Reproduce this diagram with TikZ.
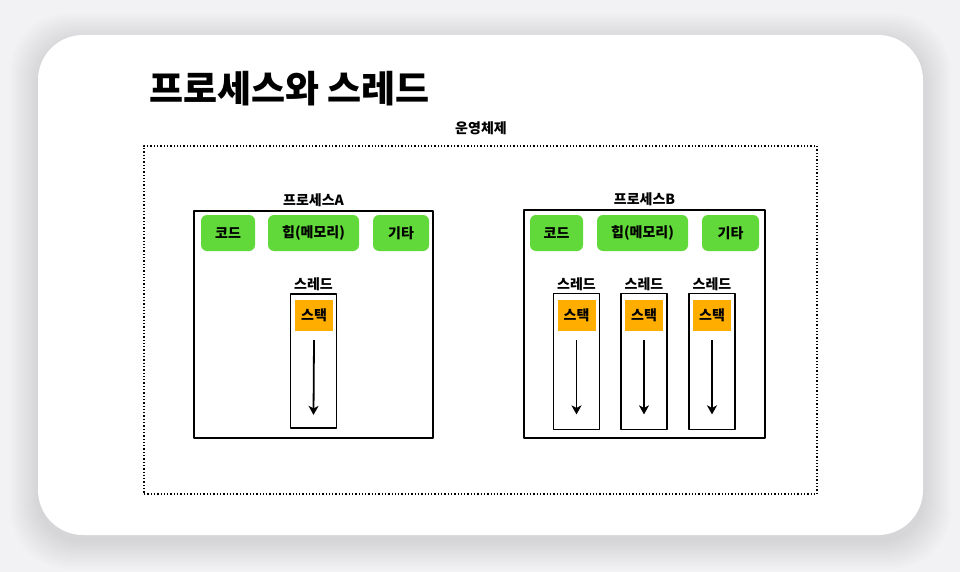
\documentclass[tikz,border=0pt]{standalone}
\usepackage{fontspec}
\setmainfont{Noto Sans CJK KR}
\usetikzlibrary{arrows.meta, positioning}
\definecolor{pagegray}{HTML}{F2F2F4}
\definecolor{segreen}{HTML}{62D93A}
\definecolor{stackorange}{HTML}{FFAE00}

\tikzset{
  seg/.style={fill=segreen, rounded corners=6pt, minimum height=36pt, inner sep=0pt,
    font=\fontsize{14}{16}\selectfont\bfseries},
  procbox/.style={draw=black, line width=1.8pt, inner sep=0pt},
  threadbox/.style={draw=black, line width=1.8pt, minimum width=46pt, minimum height=136pt, inner sep=0pt},
  stackbox/.style={fill=stackorange, minimum width=38pt, minimum height=31pt, inner sep=0pt,
    font=\fontsize{14}{16}\selectfont\bfseries},
  lbl/.style={font=\fontsize{14}{16}\selectfont\bfseries, inner sep=2pt},
  growarrow/.style={-{Stealth[length=9pt, width=10pt, inset=2.5pt]}, line width=1.8pt}
}

\begin{document}
\begin{tikzpicture}[x=1pt, y=-1pt, line join=round]
  \useasboundingbox (0,0) rectangle (960,572);
  % Hintergrund und Karte
  \fill[pagegray] (0,0) rectangle (960,572);
  \foreach \s in {1,...,14}
    \fill[black, opacity=0.008, rounded corners=45pt+\s pt] (38-2*\s,35-2*\s+6) rectangle (923+2*\s,535+2*\s+6);
  \fill[white, rounded corners=45pt] (38,35) rectangle (923,535);

  % Titel
  \node[anchor=west, font=\fontsize{37}{42}\selectfont\bfseries, inner sep=0pt] (title) at (149,89) {프로세스와 스레드};

  % Betriebssystem
  \node[lbl] (oslbl) at (481,128) {운영체제};
  \node[draw=black, dotted, line width=1.3pt, minimum width=673pt, minimum height=348pt, inner sep=0pt] (os) at (480.5,320) {};

  % Prozess A
  \node[procbox, minimum width=239pt, minimum height=227pt] (procA) at (313.5,324.5) {};
  \node[lbl, above=1pt of procA] (procAlbl) {프로세스A};
  \node[seg, minimum width=54pt] (codeA) at (228,233) {코드};
  \node[seg, minimum width=91pt] (heapA) at (313.5,233) {힙(메모리)};
  \node[seg, minimum width=56pt] (etcA) at (401,233) {기타};
  \node[threadbox, minimum height=134pt] (thrA) at (313.5,361) {};
  \node[lbl, above=0pt of thrA] (thrAlbl) {스레드};
  \node[stackbox] (stkA) at (314,315.5) {스택};
  \coordinate (growA) at ([yshift=-9pt]stkA.south);
  \coordinate (endA) at ([yshift=14pt]thrA.south);
  \draw[growarrow] (growA) -- (endA);

  % Prozess B
  \node[procbox, minimum width=241pt, minimum height=228pt] (procB) at (644.5,324) {};
  \node[lbl, above=1pt of procB] (procBlbl) {프로세스B};
  \node[seg, minimum width=53pt] (codeB) at (556.5,233) {코드};
  \node[seg, minimum width=91pt] (heapB) at (642.5,233) {힙(메모리)};
  \node[seg, minimum width=57pt] (etcB) at (730.5,233) {기타};
  \foreach \n/\x in {1/576.5, 2/644, 3/712} {
    \node[threadbox] (thrB\n) at (\x,361.5) {};
    \node[lbl, above=0pt of thrB\n] (thrB\n lbl) {스레드};
    \node[stackbox] (stkB\n) at (\x,315.5) {스택};
    \coordinate (growB\n) at ([yshift=-9pt]stkB\n.south);
    \coordinate (endB\n) at ([yshift=16pt]thrB\n.south);
    \draw[growarrow] (growB\n) -- (endB\n);
  }
\end{tikzpicture}
\end{document}
